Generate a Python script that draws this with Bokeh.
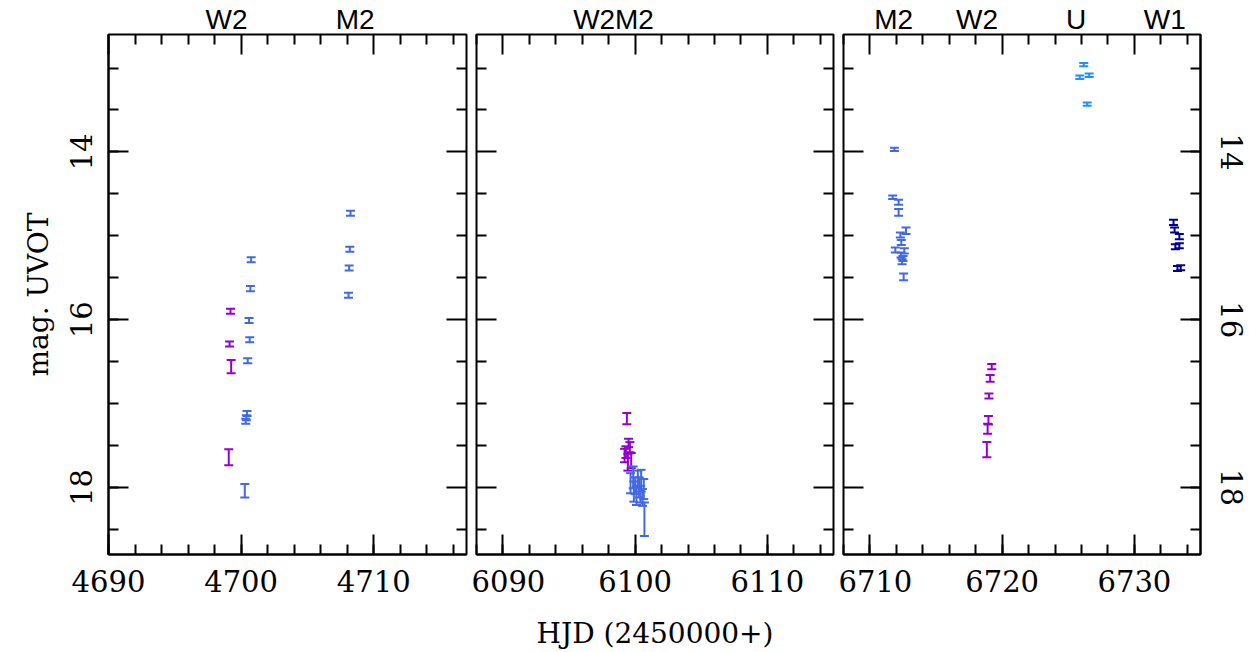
import numpy as np
from bokeh.plotting import figure
from bokeh.layouts import row
from bokeh.models import Range1d, LinearAxis, SingleIntervalTicker, FixedTicker
from bokeh.embed import file_html
from bokeh.resources import INLINE

# ---------------- data ----------------
# Panel 1 (HJD 2454690-2454717)
p1_w2_t = [4699.20, 4699.13, 4699.25, 4699.07]
p1_w2_m = [15.90, 16.29, 16.56, 17.64]
p1_w2_e = [0.03, 0.03, 0.08, 0.095]
p1_m2_t = [4708.25, 4708.20, 4708.15, 4708.10, 4700.76, 4700.70, 4700.60, 4700.65, 4700.50, 4700.45, 4700.40, 4700.35, 4700.28]
p1_m2_m = [14.73, 15.16, 15.385, 15.71, 15.285, 15.63, 16.01, 16.24, 16.49, 17.12, 17.17, 17.21, 18.04]
p1_m2_e = [0.03, 0.03, 0.03, 0.03, 0.03, 0.03, 0.03, 0.03, 0.03, 0.03, 0.03, 0.03, 0.08]

# Panel 2 (HJD 2456088-2456115)
p2_w2_t = [6099.37, 6099.50, 6099.60, 6099.30, 6099.20, 6099.45, 6099.70]
p2_w2_m = [17.18, 17.47, 17.52, 17.58, 17.62, 17.70, 17.68]
p2_w2_e = [0.067, 0.05, 0.06, 0.07, 0.08, 0.10, 0.09]
p2_m2_t = [6099.65, 6099.85, 6099.90, 6100.00, 6100.10, 6100.20, 6100.30, 6100.40, 6100.45, 6100.55, 6100.65, 6100.70]
p2_m2_m = [17.95, 17.88, 18.05, 17.98, 18.10, 17.90, 18.00, 18.08, 17.92, 18.12, 18.02, 18.38]
p2_m2_e = [0.12, 0.13, 0.12, 0.10, 0.11, 0.10, 0.12, 0.10, 0.13, 0.10, 0.12, 0.20]

# Panel 3 (HJD 2456708-2456735)
p3_m2_t = [6711.85, 6711.72, 6712.17, 6712.17, 6712.73, 6712.30, 6712.37, 6711.92, 6712.60, 6712.35, 6712.50, 6712.43, 6712.55]
p3_m2_m = [13.97, 14.54, 14.60, 14.72, 14.94, 14.99, 15.08, 15.17, 15.18, 15.23, 15.27, 15.31, 15.49]
p3_m2_e = [0.02, 0.02, 0.03, 0.04, 0.04, 0.03, 0.03, 0.03, 0.03, 0.03, 0.03, 0.03, 0.04]
p3_w2_t = [6719.21, 6719.09, 6719.00, 6718.96, 6718.90, 6718.84]
p3_w2_m = [16.56, 16.70, 16.91, 17.20, 17.30, 17.55]
p3_w2_e = [0.03, 0.04, 0.03, 0.05, 0.06, 0.09]
p3_u_t = [6726.17, 6725.87, 6726.58, 6726.43]
p3_u_m = [12.96, 13.11, 13.086, 13.43]
p3_u_e = [0.02, 0.02, 0.02, 0.02]
p3_w1_t = [6732.96, 6733.04, 6733.40, 6733.10, 6733.40, 6733.26, 6733.50]
p3_w1_m = [14.84, 14.93, 15.01, 15.13, 15.12, 15.39, 15.38]
p3_w1_e = [0.03, 0.03, 0.03, 0.03, 0.03, 0.03, 0.03]

# filter labels along the top of each panel
p1_top_names = ["W2", "M2"]
p1_top_pos = [4698.9, 4708.6]
p2_top_names = ["W2", "M2"]
p2_top_pos = [6096.9, 6099.95]
p3_top_names = ["M2", "W2", "U", "W1"]
p3_top_pos = [6711.8, 6718.1, 6725.6, 6732.3]

x_ranges = [(4690, 4717), (6088, 6115), (6708, 6735)]
y_range = (18.8, 12.6)

C_W2 = "#9400D3"
C_M2 = "#4169E1"
C_U = "#1E90FF"
C_W1 = "#00008B"

SERIF = "DejaVu Serif"
SANS = "Liberation Sans"


def style_axis(ax, standoff):
    ax.axis_line_color = "black"
    ax.axis_line_width = 2
    ax.major_tick_line_color = "black"
    ax.major_tick_line_width = 2
    ax.minor_tick_line_color = "black"
    ax.minor_tick_line_width = 2
    ax.major_tick_in = 20
    ax.major_tick_out = 0
    ax.minor_tick_in = 10
    ax.minor_tick_out = 0
    ax.major_label_text_font = SERIF
    ax.major_label_text_color = "black"
    ax.major_label_text_font_size = "29px"
    ax.major_label_standoff = standoff


def tick_only_axis(positions, length):
    ax = LinearAxis(ticker=FixedTicker(ticks=[], minor_ticks=positions))
    ax.axis_line_color = None
    ax.major_tick_line_color = None
    ax.minor_tick_line_color = "black"
    ax.minor_tick_line_width = 2
    ax.minor_tick_in = length
    ax.minor_tick_out = 0
    ax.major_label_standoff = 0
    return ax


def errbars(p, t, m, e, color):
    lo = [a + b for a, b in zip(m, e)]
    hi = [a - b for a, b in zip(m, e)]
    p.segment(x0=t, y0=lo, x1=t, y1=hi, line_color=color, line_width=2)
    p.scatter(x=t + t, y=lo + hi, marker="dash", size=9, line_color=color, line_width=2)


def make_panel(xr, width, bl, br, show_left, show_right, xlabel, names, pos):
    p = figure(width=width, height=652, x_range=Range1d(*xr), y_range=Range1d(*y_range),
               output_backend="svg", toolbar_location=None,
               min_border_left=bl, min_border_right=br, min_border_top=33, min_border_bottom=97,
               x_axis_location=None, y_axis_location=None)
    p.grid.visible = False
    p.outline_line_color = "black"
    p.outline_line_width = 2
    p.background_fill_color = "white"
    p.border_fill_color = "white"

    xt = SingleIntervalTicker(interval=10, num_minor_ticks=5)
    yt = SingleIntervalTicker(interval=2, num_minor_ticks=4)
    x_long = [v for v in range(xr[0], xr[1] + 1) if v % 10 == 0]
    x_short = [v for v in range(xr[0], xr[1] + 1) if v % 2 == 0 and v % 10 != 0]
    y_long = [v for v in np.arange(13.0, 18.51, 0.5) if v % 2 == 0]
    y_short = [v for v in np.arange(13.0, 18.51, 0.5) if v % 2 != 0]

    # bottom: labelled axis
    bottom = LinearAxis(ticker=xt)
    style_axis(bottom, 15)
    if xlabel:
        bottom.axis_label = xlabel
        bottom.axis_label_text_font = SERIF
        bottom.axis_label_text_font_style = "normal"
        bottom.axis_label_text_font_size = "28px"
        bottom.axis_label_text_color = "black"
        bottom.axis_label_standoff = 22
    p.add_layout(bottom, "below")

    # top: inward ticks only, then filter names
    p.add_layout(tick_only_axis(x_long, 20), "above")
    p.add_layout(tick_only_axis(x_short, 10), "above")
    lab = LinearAxis(ticker=FixedTicker(ticks=pos, minor_ticks=[]),
                     major_label_overrides=dict(zip(pos, names)))
    lab.axis_line_color = None
    lab.major_tick_line_color = None
    lab.minor_tick_line_color = None
    lab.major_tick_in = 0
    lab.major_tick_out = 0
    lab.major_label_standoff = 0
    lab.major_label_text_font = SANS
    lab.major_label_text_font_size = "28px"
    lab.major_label_text_color = "black"
    p.add_layout(lab, "above")

    # left
    if show_left:
        left = LinearAxis(ticker=yt)
        style_axis(left, 16)
        left.major_label_orientation = "vertical"
        left.axis_label = "mag. UVOT"
        left.axis_label_text_font = SERIF
        left.axis_label_text_font_style = "normal"
        left.axis_label_text_font_size = "28px"
        left.axis_label_text_color = "black"
        left.axis_label_standoff = 13
        p.add_layout(left, "left")
    else:
        p.add_layout(tick_only_axis(y_long, 20), "left")
        p.add_layout(tick_only_axis(y_short, 10), "left")

    # right
    if show_right:
        right = LinearAxis(ticker=yt)
        style_axis(right, 20)
        right.major_label_orientation = "vertical"
        p.add_layout(right, "right")
    else:
        p.add_layout(tick_only_axis(y_long, 20), "right")
        p.add_layout(tick_only_axis(y_short, 10), "right")
    return p


p1 = make_panel(x_ranges[0], 471, 108, 5, True, False, None, p1_top_names, p1_top_pos)
p2 = make_panel(x_ranges[1], 367, 5, 5, False, False, "HJD (2450000+)", p2_top_names, p2_top_pos)
p3 = make_panel(x_ranges[2], 411, 5, 49, False, True, None, p3_top_names, p3_top_pos)

errbars(p1, p1_w2_t, p1_w2_m, p1_w2_e, C_W2)
errbars(p1, p1_m2_t, p1_m2_m, p1_m2_e, C_M2)
errbars(p2, p2_w2_t, p2_w2_m, p2_w2_e, C_W2)
errbars(p2, p2_m2_t, p2_m2_m, p2_m2_e, C_M2)
errbars(p3, p3_m2_t, p3_m2_m, p3_m2_e, C_M2)
errbars(p3, p3_w2_t, p3_w2_m, p3_w2_e, C_W2)
errbars(p3, p3_u_t, p3_u_m, p3_u_e, C_U)
errbars(p3, p3_w1_t, p3_w1_m, p3_w1_e, C_W1)

layout = row(p1, p2, p3, spacing=0)
open("out.html", "w").write(file_html(layout, INLINE))
